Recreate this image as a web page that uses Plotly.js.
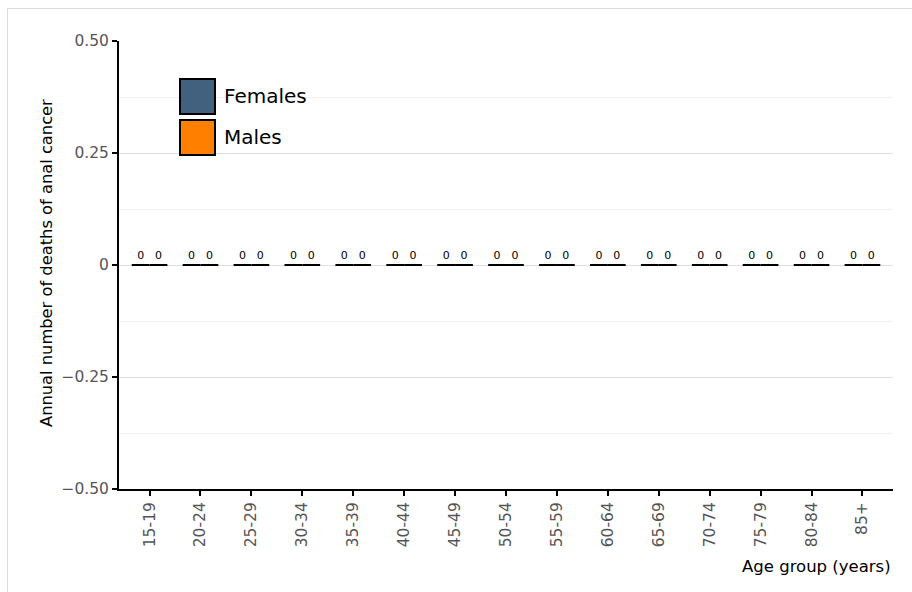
<!DOCTYPE html>
<html>
<head>
<meta charset="utf-8">
<script src="https://cdn.plot.ly/plotly-3.0.1.min.js"></script>
<style>
html,body{margin:0;padding:0;background:#fff;}
#chart{position:absolute;left:0;top:0;width:912px;height:592px;}
#frame{position:absolute;left:7px;top:8px;width:920px;height:600px;border:1px solid #dcdcdc;pointer-events:none;}
</style>
</head>
<body>
<div id="chart"></div>
<div id="frame"></div>
<script>
const ageGroups = ["15-19","20-24","25-29","30-34","35-39","40-44","45-49","50-54","55-59","60-64","65-69","70-74","75-79","80-84","85+"];
const females = [0,0,0,0,0,0,0,0,0,0,0,0,0,0,0];
const males   = [0,0,0,0,0,0,0,0,0,0,0,0,0,0,0];
const seriesNames = ["Females","Males"];
const seriesColors = ["#41617f","#ff8000"];
const yTickVals = [0.5,0.25,0,-0.25,-0.5];
const yTickText = ["0.50","0.25","0","\u22120.25","\u22120.50"];
const minorVals = [0.375,0.125,-0.125,-0.375];

const font = "DejaVu Sans, sans-serif";

function barTrace(name, vals, color){
  return {
    type:"bar", name:name, x:ageGroups, y:vals,
    marker:{color:color, line:{color:"#000", width:2}},
    text: vals.map(v=>String(v)), textposition:"outside",
    textfont:{family:font, size:11, color:"#000"},
    cliponaxis:false, showlegend:false, hoverinfo:"x+y+name"
  };
}

const data = [barTrace(seriesNames[0], females, seriesColors[0]), barTrace(seriesNames[1], males, seriesColors[1])];

const shapes = [];
const annotations = [];
// legend (built manually for large swatches)
const legTop = [79,120];
seriesNames.forEach((n,i)=>{
  shapes.push({type:"rect", xref:"paper", yref:"paper",
    x0:(180-119)/774, x1:(215-119)/774,
    y0:(489-(legTop[i]+35))/448, y1:(489-legTop[i])/448,
    fillcolor:seriesColors[i], line:{color:"#000", width:2}});
  annotations.push({xref:"paper", yref:"paper", x:(222-119)/774, y:(489-(legTop[i]+17))/448,
    xanchor:"left", yanchor:"middle", showarrow:false, text:n,
    font:{family:font, size:20, color:"#000"}});
});
annotations.push({xref:"paper", yref:"paper", x:1, y:0, yshift:-77, xanchor:"right", yanchor:"middle",
  showarrow:false, text:"Age group (years)", font:{family:font, size:16.5, color:"#000"}});
annotations.push({xref:"paper", yref:"paper", x:0, xshift:-73, y:0.5, yshift:2, xanchor:"center", yanchor:"middle",
  textangle:-90, showarrow:false, text:"Annual number of deaths of anal cancer", font:{family:font, size:16.3, color:"#000"}});

const layout = {
  width:912, height:592,
  margin:{l:119, r:19, t:41, b:103},
  paper_bgcolor:"rgba(0,0,0,0)", plot_bgcolor:"#fff",
  font:{family:font},
  barmode:"group", bargap:0.3, bargroupgap:0,
  showlegend:false,
  xaxis:{type:"category", range:[-0.6,14.6], showgrid:false, zeroline:false,
    showline:true, linecolor:"#000", linewidth:2, ticks:"outside", ticklen:5, tickwidth:2, tickcolor:"#000",
    tickangle:-90, tickfont:{family:font, size:15.5, color:"#555"}},
  yaxis:{range:[-0.5,0.5], tickmode:"array", tickvals:yTickVals, ticktext:yTickText,
    showgrid:true, gridcolor:"#e0e0e0", gridwidth:1, zeroline:false,
    showline:true, linecolor:"#000", linewidth:2, ticks:"outside", ticklen:5, tickwidth:2, tickcolor:"#000",
    tickfont:{family:font, size:15.5, color:"#555"},
    minor:{tickmode:"array", tickvals:minorVals, showgrid:true, gridcolor:"#f2f2f2", gridwidth:1, ticks:""}},
  shapes:shapes, annotations:annotations
};

Plotly.newPlot("chart", data, layout, {displayModeBar:false, staticPlot:true});
</script>
</body>
</html>
